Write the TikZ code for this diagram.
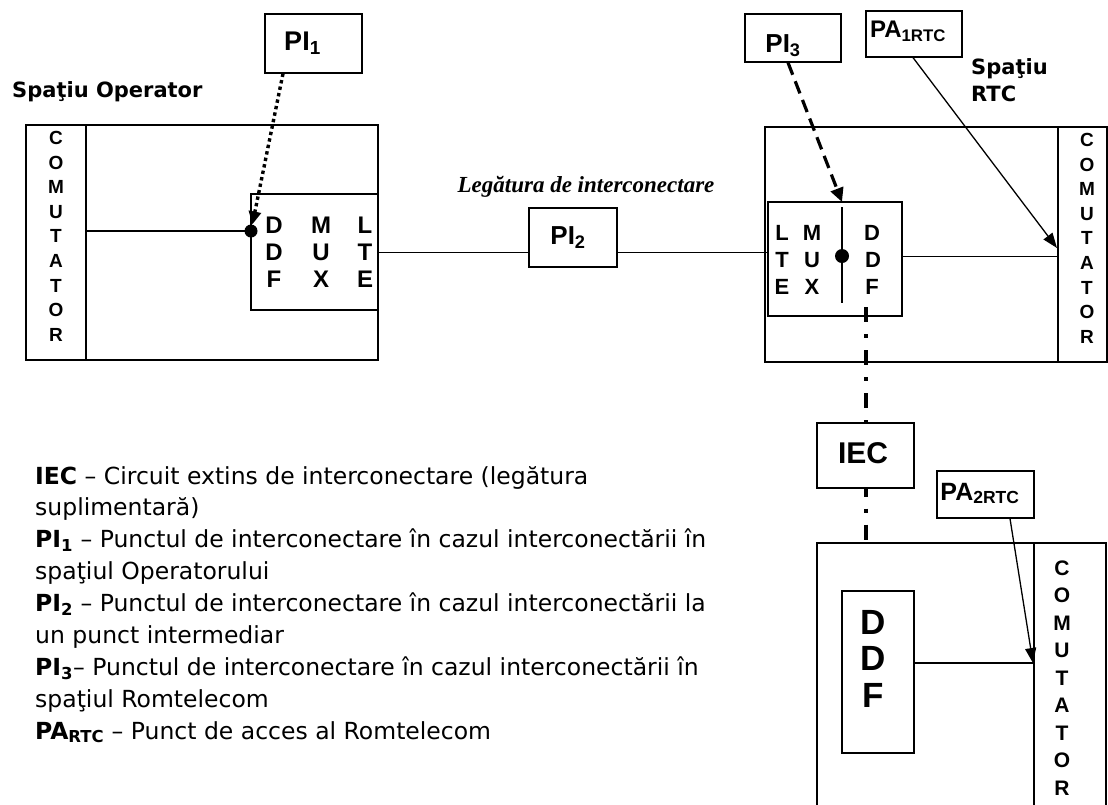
\documentclass[tikz,border=0pt]{standalone}
\usepackage{fontspec}
\setmainfont{Liberation Sans}
\newfontfamily\tah{DejaVu Sans}
\newfontfamily\tms{Liberation Serif}
\usetikzlibrary{arrows.meta}
\begin{document}
\begin{tikzpicture}[x=1pt,y=-1pt,
  boxn/.style={draw,line width=1.2pt,inner sep=0pt,rectangle},
  wire/.style={line width=1pt},
  lbl/.style={inner sep=0pt,anchor=base,font=\bfseries\fontsize{#1}{#1}\selectfont},
  ltr/.style={inner sep=0pt,font=\bfseries\fontsize{#1}{#1}\selectfont},
  dotn/.style={circle,fill=black,inner sep=0pt,minimum size=13pt},
  leg/.style={inner sep=0pt,anchor=base west,font=\tah\fontsize{23.5}{28}\selectfont},
  spc/.style={inner sep=0pt,anchor=base west,font=\tah\bfseries\fontsize{21}{26}\selectfont},
  ptip/.style={-{Triangle[length=15pt,width=11pt]},line width=1.3pt},
  dotarr/.style={-{Triangle[length=13pt,width=12pt]},line width=3.4pt,dash pattern=on 3.4pt off 3.2pt},
  dasharr/.style={-{Triangle[length=14pt,width=13pt]},line width=3.2pt,dash pattern=on 13pt off 7pt},
  dashdotl/.style={line width=3.2pt,dash pattern=on 15pt off 12pt on 4pt off 12pt}
]
\path[use as bounding box,fill=white] (0,0) rectangle (1108,804);

% ---------- left (Operator) ----------
\node[spc] (spop) at (12,97) {Spaţiu Operator};
\node[boxn,minimum width=352pt,minimum height=235pt] (lout) at (202,242.5) {};
\node[boxn,minimum width=60pt,minimum height=235pt] (lcol) at (56,242.5) {};
\foreach \ch [count=\i] in {C,O,M,U,T,A,T,O,R}
  \node[ltr=19] (lc\i) at (56,{138+(\i-1)*24.6}) {\ch};
\node[boxn,minimum width=127pt,minimum height=116pt] (linner) at (314.5,252) {};
\foreach \ch/\x/\y/\n in {D/274/225/1,D/274/252/2,F/274/279/3,M/321/225/4,U/321/252/5,X/321/279/6,L/365/225/7,T/365/252/8,E/365/279/9}
  \node[ltr=24] (li\n) at (\x,\y) {\ch};
\node[dotn] (ldot) at (251,231) {};
\node[boxn,minimum width=97pt,minimum height=59pt] (pi1) at (313.5,43.5) {};
\node[lbl=27] (pi1t) at (302.5,50) {PI\textsubscript{1}};

% ---------- middle ----------
\node[inner sep=0pt,anchor=base,font=\tms\bfseries\itshape\fontsize{23}{28}\selectfont] (leg) at (586,192) {Legătura de interconectare};
\node[boxn,minimum width=88pt,minimum height=59pt] (pi2) at (573,237.5) {};
\node[lbl=26] (pi2t) at (568,244) {PI\textsubscript{2}};

% ---------- right (RTC) ----------
\node[spc] (sprtc1) at (971,74) {Spaţiu};
\node[spc] (sprtc2) at (971,101) {RTC};
\node[boxn,minimum width=342pt,minimum height=235pt] (rout) at (936,244.5) {};
\node[boxn,minimum width=49pt,minimum height=235pt] (rcol) at (1082.5,244.5) {};
\foreach \ch [count=\i] in {C,O,M,U,T,A,T,O,R}
  \node[ltr=19] (rc\i) at (1087,{140+(\i-1)*24.6}) {\ch};
\node[boxn,minimum width=134pt,minimum height=114pt] (rinner) at (835,259) {};
\foreach \ch/\x/\y/\n in {L/782/233/1,T/782/260/2,E/782/287/3,M/812/233/4,U/812/260/5,X/812/287/6,D/872/233/7,D/873/260/8,F/872/287/9}
  \node[ltr=22] (ri\n) at (\x,\y) {\ch};
\coordinate (rvtop) at (842,202);
\coordinate (rvbot) at (842,303);
\node[dotn,minimum size=14pt] (rdot) at (842,256) {};
\node[boxn,minimum width=96pt,minimum height=48pt] (pi3) at (793,38) {};
\node[lbl=26] (pi3t) at (783,52) {PI\textsubscript{3}};
\node[boxn,minimum width=96pt,minimum height=46pt] (pa1) at (914,34) {};
\node[lbl=24] (pa1t) at (908,37.5) {PA\textsubscript{1RTC}};
\coordinate (pa1end) at (1057,248);

% ---------- bottom right ----------
\node[boxn,minimum width=97pt,minimum height=65pt] (iec) at (865.5,455.5) {};
\node[lbl=30] (iect) at (863,463) {IEC};
\node[boxn,minimum width=97pt,minimum height=47pt] (pa2) at (985.5,494.5) {};
\node[lbl=25] (pa2t) at (980,500) {PA\textsubscript{2RTC}};
\node[boxn,minimum width=289pt,minimum height=277pt] (bbox) at (961.5,681.5) {};
\node[boxn,minimum width=72pt,minimum height=277pt] (bcol) at (1070,681.5) {};
\foreach \ch [count=\i] in {C,O,M,U,T,A,T,O,R}
  \node[ltr=21] (bc\i) at (1062,{568+(\i-1)*27.5}) {\ch};
\node[boxn,minimum width=72pt,minimum height=162pt] (ddf) at (878,672) {};
\foreach \ch/\y/\n in {D/622/1,D/658/2,F/695/3}
  \node[ltr=35] (bd\n) at (873,\y) {\ch};
\coordinate (ddfy) at (914,663);
\coordinate (pa2end) at (1033,663);
\coordinate (ddst) at (866,307);

% ---------- connectors ----------
\draw[line width=2pt] (lcol.east |- ldot) -- (ldot.center);
\draw[dotarr] ([xshift=-30.5pt]pi1.south) -- (ldot);
\draw[wire] (linner.east) -- (linner.east -| pi2.west);
\draw[wire] (pi2.east |- linner.east) -- (rinner.west |- linner.east);
\draw[line width=1.4pt] ([yshift=-5pt]rvtop) -- (rvbot);
\draw[dasharr] ([xshift=-5pt]pi3.south) -- (rvtop);
\draw[wire] (rinner.east |- rdot) -- (rcol.west |- rdot);
\draw[ptip] ([xshift=-1pt]pa1.south) -- (pa1end);
\draw[dashdotl] (ddst) -- (ddst |- iec.north);
\draw[dashdotl,dash phase=7pt] (ddst |- iec.south) -- (ddst |- bbox.north);
\draw[line width=1.3pt] (ddfy) -- (ddfy -| bcol.west);
\draw[ptip] ([xshift=24.5pt]pa2.south) -- (pa2end);

% ---------- legend ----------
\node[leg] (lg1) at (35,484) {\textbf{IEC} – Circuit extins de interconectare (legătura};
\node[leg] (lg2) at (35,515.9) {suplimentară)};
\node[leg] (lg3) at (35,547.8) {\textbf{PI\textsubscript{1}} – Punctul de interconectare în cazul interconectării în};
\node[leg] (lg4) at (35,579.7) {spaţiul Operatorului};
\node[leg] (lg5) at (35,611.6) {\textbf{PI\textsubscript{2}} – Punctul de interconectare în cazul interconectării la};
\node[leg] (lg6) at (35,643.5) {un punct intermediar};
\node[leg] (lg7) at (35,675.4) {\textbf{PI\textsubscript{3}}– Punctul de interconectare în cazul interconectării în};
\node[leg] (lg8) at (35,707.3) {spaţiul Romtelecom};
\node[leg] (lg9) at (35,739.2) {\textbf{PA\textsubscript{RTC}} – Punct de acces al Romtelecom};
\end{tikzpicture}
\end{document}
